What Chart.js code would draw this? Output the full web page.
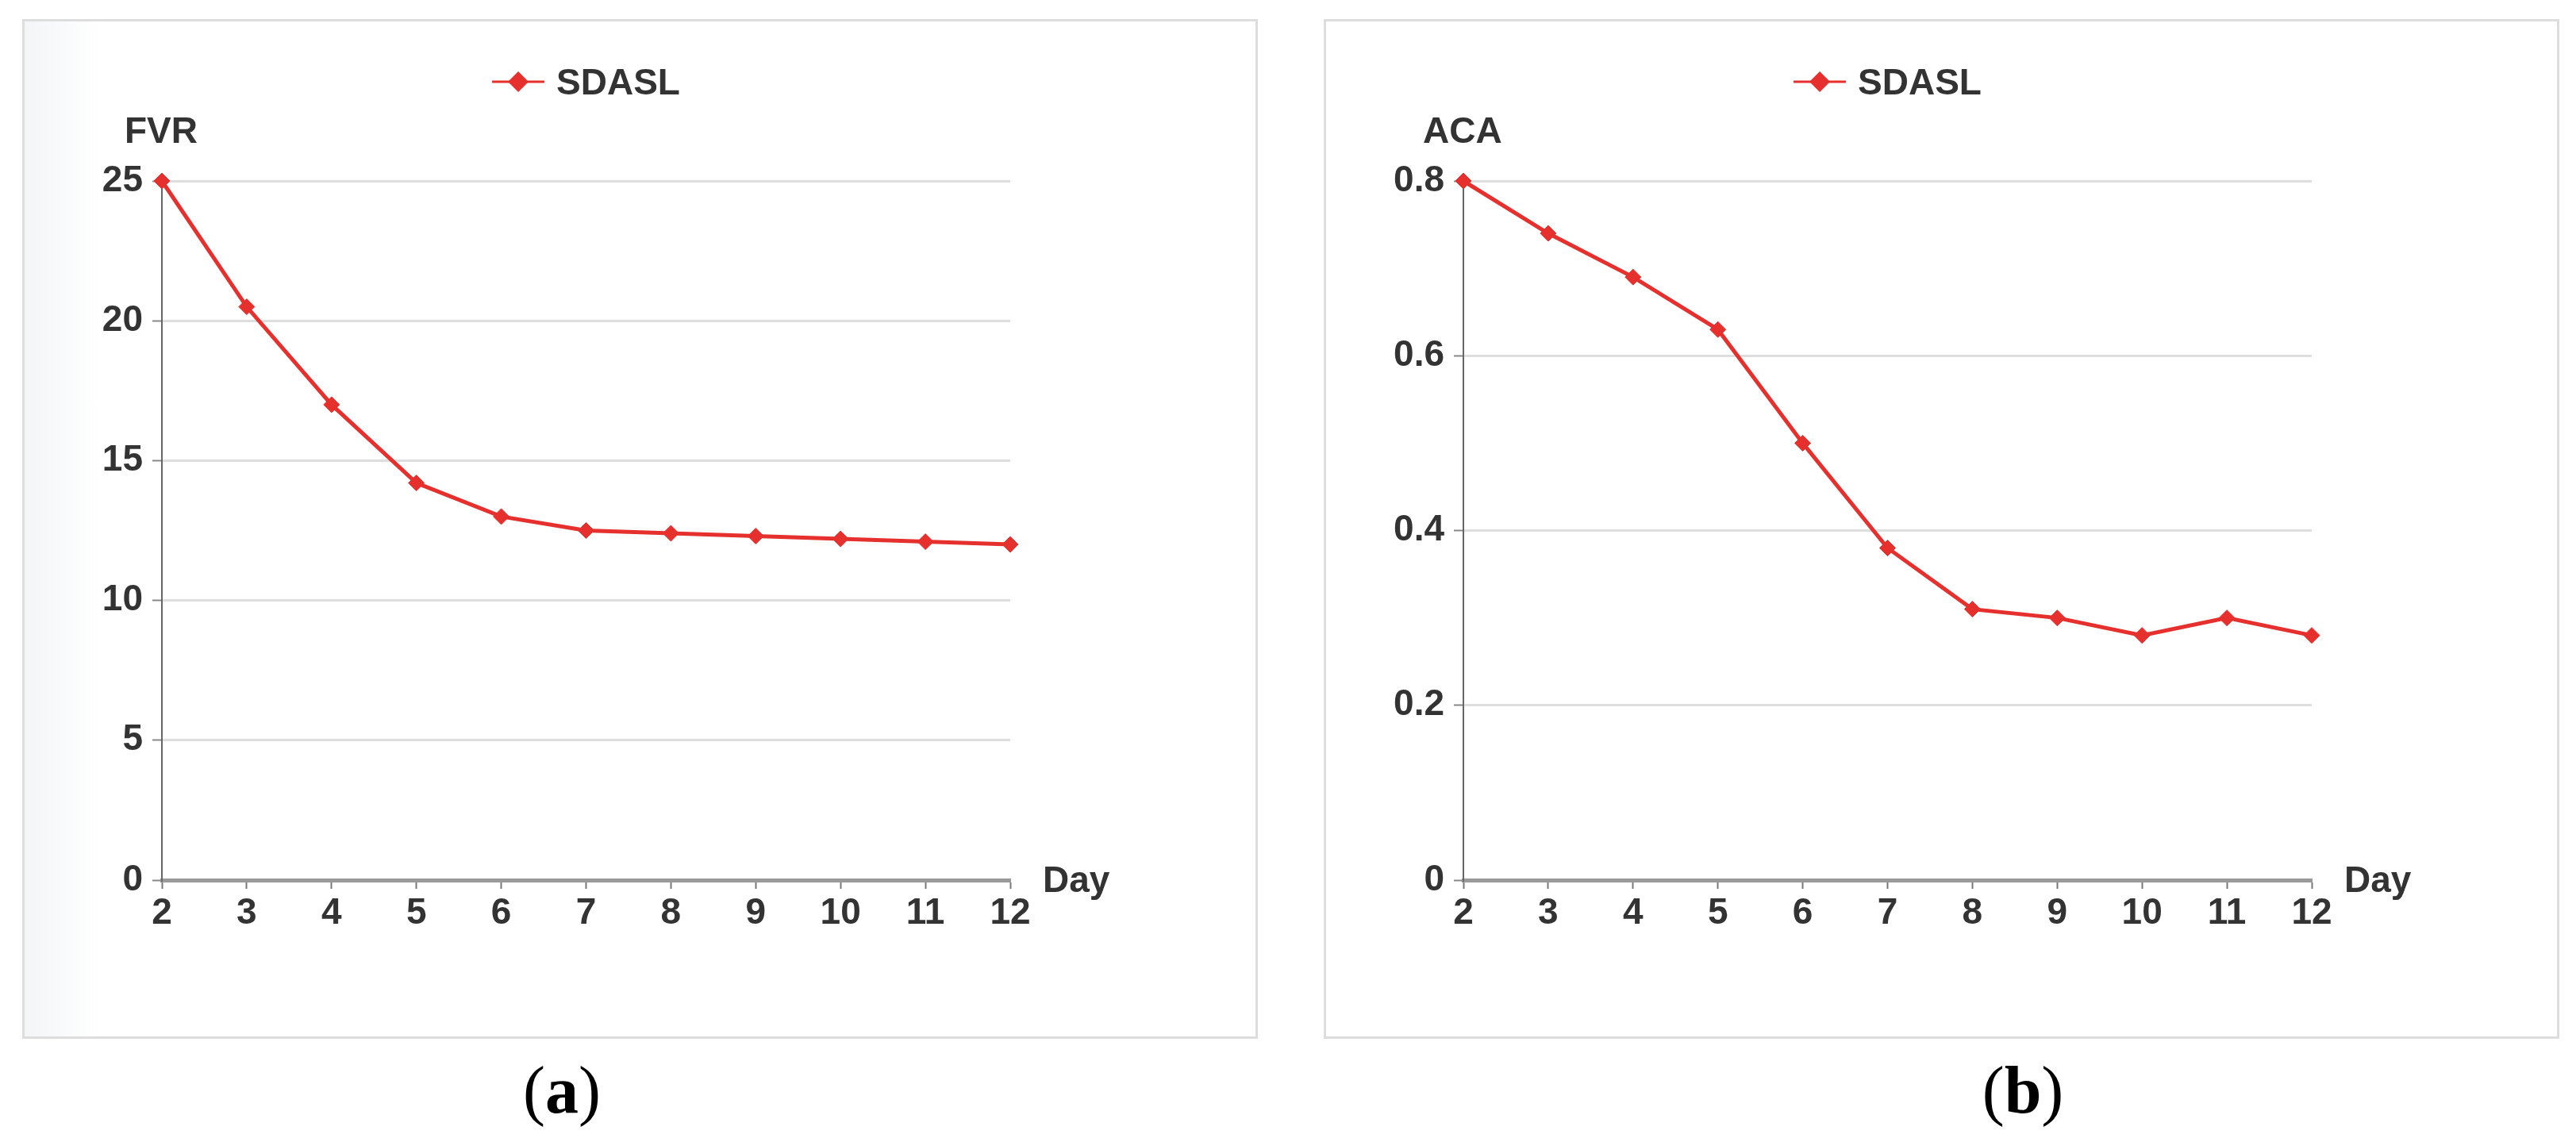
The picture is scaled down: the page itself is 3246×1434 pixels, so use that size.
<!DOCTYPE html>
<html>
<head>
<meta charset="utf-8">
<script src="https://cdn.jsdelivr.net/npm/chart.js@4.4.1/dist/chart.umd.min.js"></script>
<style>
    body { margin: 0; width: 3246px; height: 1434px; background: #fff; position: relative; overflow: hidden; }
    .panel { position: absolute; top: 24px; width: 1557px; height: 1285px; box-sizing: border-box; border: 3px solid #dddddd; }
    #panel-a { left: 28px; background: linear-gradient(to right, #f4f5f6 0px, #f9fafb 50px, #ffffff 95px); }
    #panel-b { left: 1668px; background: #fff; }
    .panel canvas { position: absolute; left: 0; top: 0; }
    .caption { position: absolute; top: 1332px; width: 400px; text-align: center; font-family: "Liberation Serif", "Times New Roman", serif; font-size: 84px; line-height: 84px; color: #000; }
    .caption b { font-weight: bold; }
</style>
</head>
<body>
<div class="panel" id="panel-a"><canvas id="fvr-chart" width="1551" height="1279"></canvas></div>
<div class="panel" id="panel-b"><canvas id="aca-chart" width="1551" height="1279"></canvas></div>
<div class="caption" style="left:508px">(<b>a</b>)</div>
<div class="caption" style="left:2349px">(<b>b</b>)</div>

<script>
// dados
var days = ['2', '3', '4', '5', '6', '7', '8', '9', '10', '11', '12'];
var fvrValues = [25, 20.5, 17, 14.2, 13, 12.5, 12.4, 12.3, 12.2, 12.1, 12];
var acaValues = [0.8, 0.74, 0.69, 0.63, 0.5, 0.38, 0.31, 0.3, 0.28, 0.3, 0.28];
var fvrTicks = [0, 5, 10, 15, 20, 25];
var acaTicks = [0, 0.2, 0.4, 0.6, 0.8];
var seriesName = 'SDASL';

var red = '#e5302e';
var textColor = '#333333';
var fontFamily = '"Liberation Sans", Arial, Helvetica, sans-serif';

// legenda, título do eixo Y e "Day" desenhados à mão
var panelText = {
    id: 'panelText',
    afterDraw: function (chart, args, opts) {
        var ctx = chart.ctx;
        var area = chart.chartArea;
        var ds = chart.data.datasets[0];
        ctx.save();
        ctx.font = 'bold 46px ' + fontFamily;
        ctx.fillStyle = textColor;
        ctx.textBaseline = 'alphabetic';
        ctx.textAlign = 'left';

        // título do eixo Y acima do eixo
        ctx.fillText(opts.yTitle, area.left - opts.yTitleShift, area.top - 48);
        // título do eixo X à direita
        ctx.fillText('Day', area.right + 41, area.bottom + 15);

        // legenda centrada sobre a área do gráfico
        var textW = ctx.measureText(ds.label).width;
        var lineW = 66, gap = 15;
        var total = lineW + gap + textW;
        var x0 = (area.left + area.right) / 2 - total / 2;
        var ly = 76;
        ctx.strokeStyle = ds.borderColor;
        ctx.lineWidth = 3;
        ctx.beginPath();
        ctx.moveTo(x0, ly);
        ctx.lineTo(x0 + lineW, ly);
        ctx.stroke();
        ctx.fillStyle = ds.borderColor;
        ctx.beginPath();
        ctx.moveTo(x0 + lineW / 2, ly - 13);
        ctx.lineTo(x0 + lineW / 2 + 13, ly);
        ctx.lineTo(x0 + lineW / 2, ly + 13);
        ctx.lineTo(x0 + lineW / 2 - 13, ly);
        ctx.closePath();
        ctx.fill();
        ctx.fillStyle = textColor;
        ctx.fillText(ds.label, x0 + lineW + gap, ly + 16);
        ctx.restore();
    }
};

function makeChart(id, values, ticks, yTitle, yTitleShift) {
    var ctx = document.getElementById(id);
    return new Chart(ctx, {
        type: 'line',
        data: {
            labels: days,
            datasets: [{
                label: seriesName,
                data: values,
                borderColor: red,
                backgroundColor: red,
                borderWidth: 5,
                pointStyle: 'rectRot',
                pointRadius: 10,
                pointBorderWidth: 1,
                tension: 0,
                clip: false
            }]
        },
        options: {
            responsive: false,
            animation: false,
            devicePixelRatio: 1,
            layout: { padding: { left: 0, top: 201, right: 309, bottom: 0 } },
            plugins: {
                legend: { display: false },
                tooltip: { enabled: false },
                panelText: { yTitle: yTitle, yTitleShift: yTitleShift }
            },
            scales: {
                x: {
                    type: 'category',
                    offset: false,
                    afterFit: function (scale) { scale.height = 197; },
                    grid: { drawOnChartArea: false, drawTicks: true, tickLength: 11, tickColor: '#777777', tickWidth: 2 },
                    border: { display: true, color: '#9a9a9a', width: 5 },
                    ticks: { color: textColor, padding: 4, maxRotation: 0, font: { family: fontFamily, size: 46, weight: 'bold' } }
                },
                y: {
                    min: ticks[0],
                    max: ticks[ticks.length - 1],
                    afterFit: function (scale) { scale.width = 173; },
                    grid: { color: '#dedede', lineWidth: 3, tickLength: 12, tickColor: '#888888', tickWidth: 2 },
                    border: { display: true, color: '#666666', width: 2 },
                    ticks: {
                        stepSize: ticks[1] - ticks[0],
                        color: textColor,
                        padding: 12,
                        font: { family: fontFamily, size: 46, weight: 'bold' }
                    }
                }
            }
        },
        plugins: [panelText]
    });
}

// GRÁFICO A - FVR
var chartA = makeChart('fvr-chart', fvrValues, fvrTicks, 'FVR', 47);

// GRÁFICO B - ACA
var chartB = makeChart('aca-chart', acaValues, acaTicks, 'ACA', 51);
</script>
</body>
</html>
